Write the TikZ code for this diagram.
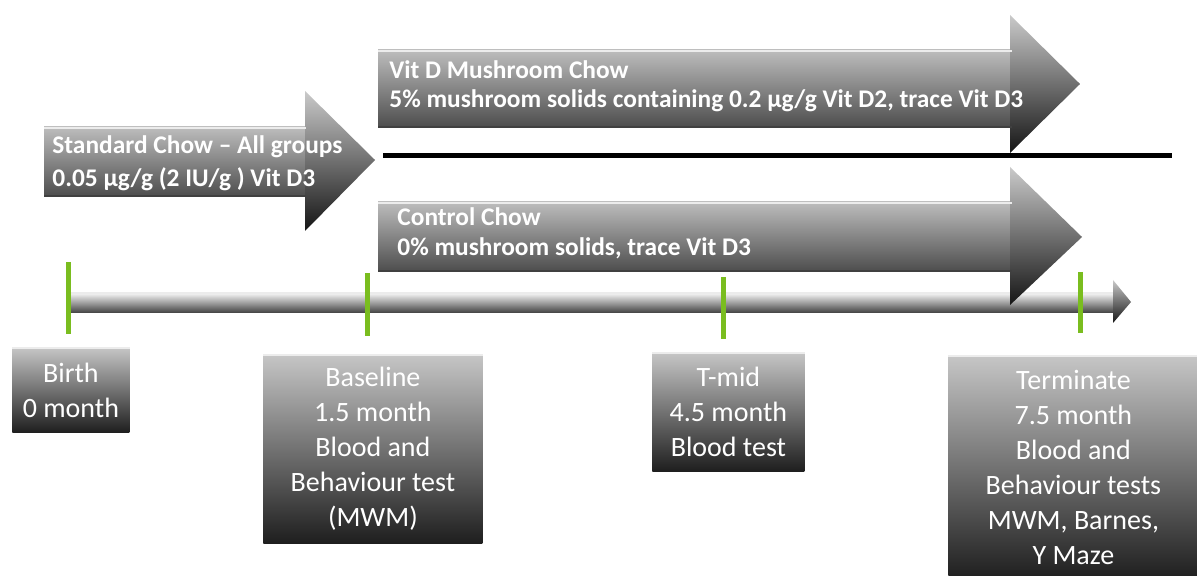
\documentclass[tikz,border=0pt]{standalone}
\usepackage{fontspec}
\setmainfont{Carlito}
\definecolor{tickgreen}{HTML}{7ABD1F}
\definecolor{boxtop}{HTML}{C6C6C6}
\definecolor{boxbot}{HTML}{1E1E1E}
\definecolor{bodytop}{HTML}{BDBDBD}
\definecolor{bodybot}{HTML}{4C4C4C}
\definecolor{headtop}{HTML}{CACACA}
\definecolor{headbot}{HTML}{151515}
\begin{document}
\begin{tikzpicture}[x=0.5pt,y=-0.5pt,
  chowtext/.style={text=white, font=\bfseries\fontsize{12.7}{15}\selectfont, anchor=base west, inner sep=0pt},
  box/.style={text=white, font=\fontsize{14}{17.5}\selectfont, align=center,
    top color=boxtop, bottom color=boxbot, inner sep=0pt, anchor=north west},
  bodyshade/.style={top color=bodytop, bottom color=bodybot},
  headshade/.style={top color=headtop, bottom color=headbot},
  hilite/.style={draw=white!85!gray, line width=1pt},
  lowedge/.style={draw=black!75, line width=1pt},
  tickline/.style={draw=tickgreen, line width=2.5pt},
  divider/.style={draw=black, line width=2.5pt}
]
\useasboundingbox (0,0) rectangle (1197,576);

% ---------- timeline bar ----------
\shade[top color=white, middle color=gray!75, bottom color=black!75] (68,292) rectangle (1113,313);
\draw[hilite] (68,293) -- (1113,293);
\shade[headshade] (1113,280) -- (1131,302) -- (1113,323) -- cycle;

% ---------- Standard chow arrow ----------
\shade[bodyshade] (44,127) rectangle (306,197);
\shade[headshade] (305,91) -- (375,160) -- (305,231) -- cycle;
\draw[hilite] (44,128) -- (306,128);
\draw[lowedge] (44,196.5) -- (306,196.5);
\node[chowtext] (std1) at (52,154) {Standard Chow – All groups};
\node[chowtext] (std2) at (52,187) {0.05 µg/g (2 IU/g ) Vit D3};

% ---------- Vit D mushroom arrow ----------
\shade[bodyshade] (378,50) rectangle (1012,128);
\shade[headshade] (1010,15) -- (1080,84) -- (1010,153) -- cycle;
\draw[hilite] (378,51) -- (1012,51);
\draw[lowedge] (378,127.5) -- (1012,127.5);
\node[chowtext] (vit1) at (389,79) {Vit D Mushroom Chow};
\node[chowtext] (vit2) at (389,108) {5\% mushroom solids containing 0.2 µg/g Vit D2, trace Vit D3};

% ---------- divider ----------
\coordinate (divL) at (383,156);
\coordinate (divR) at (1172,156);
\draw[divider] (divL) -- (divR);

% ---------- Control chow arrow ----------
\shade[bodyshade] (378,202) rectangle (1012,272);
\shade[headshade] (1010,167) -- (1082,237) -- (1010,305) -- cycle;
\draw[hilite] (378,203) -- (1012,203);
\draw[lowedge] (378,271.5) -- (1012,271.5);
\node[chowtext] (ctl1) at (397,226) {Control Chow};
\node[chowtext] (ctl2) at (397,256) {0\% mushroom solids, trace Vit D3};

% ---------- ticks ----------
\coordinate (t1a) at (68,262);  \coordinate (t1b) at (68,334);
\coordinate (t2a) at (367,273); \coordinate (t2b) at (367,336);
\coordinate (t3a) at (723,277); \coordinate (t3b) at (723,339);
\coordinate (t4a) at (1080,272);\coordinate (t4b) at (1080,333);
\draw[tickline] (t1a) -- (t1b);
\draw[tickline] (t2a) -- (t2b);
\draw[tickline] (t3a) -- (t3b);
\draw[tickline] (t4a) -- (t4b);

% ---------- event boxes ----------
\node[box, minimum width=58.5pt, minimum height=42.5pt] (birth) at (12,347) {Birth\\0 month};
\node[box, minimum width=109.5pt, minimum height=94.5pt] (base) at (263,354) {Baseline\\1.5 month\\Blood and\\Behaviour test\\(MWM)};
\node[box, minimum width=76pt, minimum height=59.5pt] (tmid) at (652,352) {T-mid\\4.5 month\\Blood test};
\node[box, minimum width=125pt, minimum height=112pt] (term) at (948,355) {Terminate\\7.5 month\\Blood and\\Behaviour tests\\MWM, Barnes,\\Y Maze};
\foreach \b in {birth,base,tmid,term}{
  \draw[hilite] ([yshift=-0.5pt]\b.north west) -- ([yshift=-0.5pt]\b.north east);
}
\end{tikzpicture}
\end{document}
